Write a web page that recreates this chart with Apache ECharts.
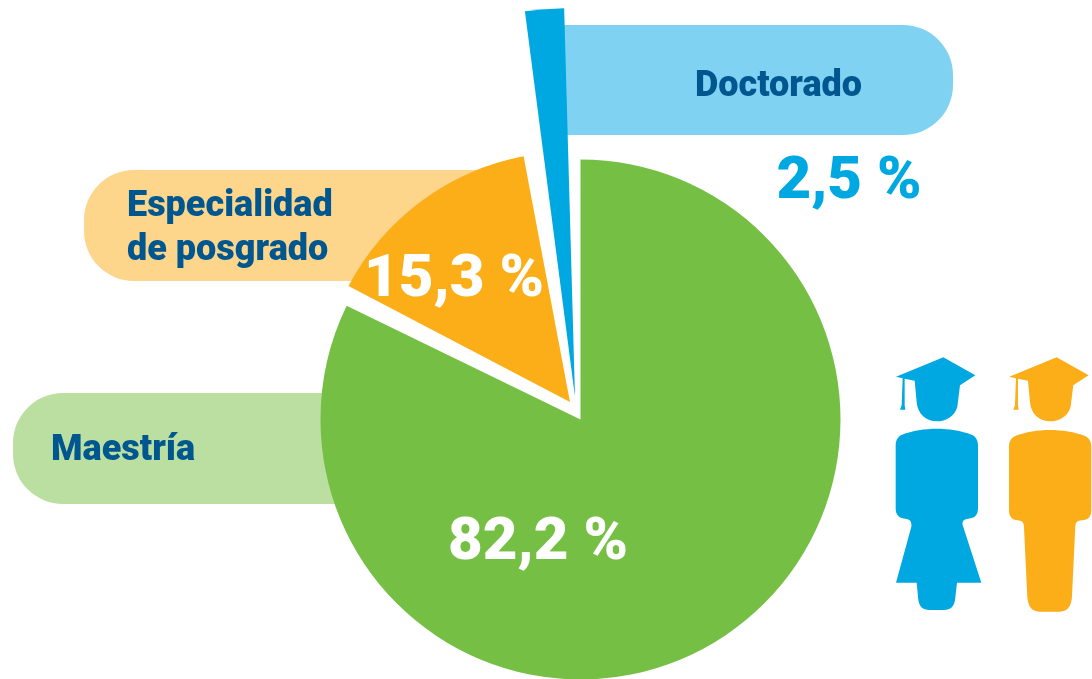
<!DOCTYPE html>
<html>
<head>
<meta charset="utf-8">
<style>
  html, body { margin: 0; padding: 0; background: #fff; }
  #chart { width: 1092px; height: 679px; }
</style>
</head>
<body>
<div id="chart"></div>
<script src="https://cdn.jsdelivr.net/npm/echarts@6/dist/echarts.min.js"></script>
<script>
  var categories = ['Maestría', 'Especialidad\nde posgrado', 'Doctorado']
  var values = [82.2, 15.3, 2.5]
  var colors = ['#75c044', '#fbae17', '#00a8e1']
  var paleColors = ['#bbdfa0', '#fdd58b', '#7fd2f2']
  var textBlue = '#00578f'

  function pct(v) {
    return v.toFixed(1).replace('.', ',') + ' %'
  }

  // every slice is its own pie so that it can be pulled out on its own
  function slice(index, center, radius, padAngle) {
    return {
      type: 'pie',
      silent: true,
      clockwise: true,
      startAngle: 90,
      center: center,
      radius: [0, radius],
      padAngle: padAngle,
      label: { show: false },
      labelLine: { show: false },
      data: values.map(function (v, i) {
        return {
          name: categories[i],
          value: v,
          itemStyle: { color: i === index ? colors[i] : 'transparent' }
        }
      })
    }
  }

  function pill(x, y, w, h, r, fill) {
    return { type: 'rect', z: 0, shape: { x: x, y: y, width: w, height: h, r: r }, style: { fill: fill } }
  }

  function text(x, y, str, size, fill, align, lineHeight) {
    return {
      type: 'text', z: 10, x: x, y: y,
      style: {
        text: str, fill: fill, align: align || 'left', verticalAlign: 'middle',
        font: '900 ' + size + 'px Roboto', lineHeight: lineHeight
      }
    }
  }

  var cap = 'M48 110 L190 52 L286 106 L240 136 L232 200 C225 228 198 244 170 244 C140 244 112 222 110 186 L104 122 L74 116 L74 196 L76 209 L60 209 L65 196 L68 115 Z'
  var woman = cap + ' M170 266 C205 266 245 272 275 284 C288 290 294 302 294 316 L294 505 C294 525 285 535 265 536 C250 537 246 545 248 555 L304 728 L231 728 L225 780 C222 800 212 810 192 810 L148 810 C128 810 118 800 115 780 L110 728 L48 728 L94 560 C96 545 90 537 75 536 C57 535 47 525 47 505 L47 316 C47 302 53 290 66 284 C96 272 135 266 170 266 Z'
  var man = cap + ' M170 270 C205 270 245 276 275 288 C288 294 294 306 294 320 L294 510 C294 530 285 540 265 541 C252 542 246 548 246 560 L236 770 C234 800 222 815 196 815 L142 815 C116 815 104 800 102 770 L92 560 C92 548 86 542 73 541 C57 540 47 530 47 510 L47 320 C47 306 53 294 66 288 C96 276 135 270 170 270 Z'

  echarts.graphic.registerShape('woman', echarts.graphic.extendPath(woman, {}))
  echarts.graphic.registerShape('man', echarts.graphic.extendPath(man, {}))

  function person(type, x, fill) {
    return {
      type: type, z: 5, x: x, y: 340, scaleX: 1 / 3, scaleY: 1 / 3,
      style: { fill: fill }
    }
  }

  var chart = echarts.init(document.getElementById('chart'))
  chart.setOption({
    animation: false,
    backgroundColor: '#fff',
    graphic: [
      pill(13, 393, 340, 111, [50, 0, 0, 50], paleColors[0]),
      pill(84, 170, 410, 111, [50, 0, 0, 50], paleColors[1]),
      pill(560, 25, 393, 110, [0, 50, 50, 0], paleColors[2]),
      text(51, 451, categories[0], 36, textBlue),
      text(127, 229, categories[1], 36, textBlue, 'left', 44),
      text(695, 87, categories[2], 36, textBlue),
      text(538, 544, pct(values[0]), 60, '#fff', 'center'),
      text(454, 281, pct(values[1]), 60, '#fff', 'center'),
      text(849, 183, pct(values[2]), 60, colors[2], 'center'),
      person('woman', 880, colors[2]),
      person('man', 993.3, colors[1])
    ],
    series: [
      slice(0, [580.5, 419.5], 260, 0),
      slice(1, [570, 402], 250, 3.4),
      slice(2, [575, 397], 389, 3.2)
    ]
  })
</script>
</body>
</html>
